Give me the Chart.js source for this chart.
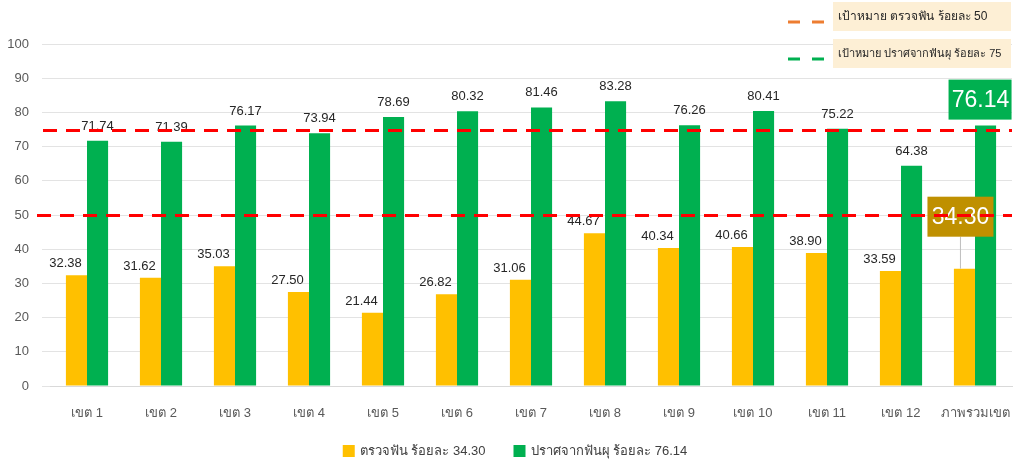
<!DOCTYPE html>
<html>
<head>
<meta charset="utf-8">
<script src="https://cdn.jsdelivr.net/npm/chart.js@4.4.0/dist/chart.umd.min.js"></script>
<style>
  html, body { margin: 0; padding: 0; background: #fff; }
  #wrap { width: 1014px; height: 463px; }
</style>
</head>
<body>
<div id="wrap"><canvas id="dentalChart" width="1014" height="463"></canvas></div>
<script>
// ข้อมูลจากภาพ
const districts = ["เขต 1", "เขต 2", "เขต 3", "เขต 4", "เขต 5", "เขต 6", "เขต 7",
    "เขต 8", "เขต 9", "เขต 10", "เขต 11", "เขต 12", "ภาพรวมเขต"];
const examRate = [32.38, 31.62, 35.03, 27.50, 21.44, 26.82, 31.06, 44.67, 40.34, 40.66, 38.90, 33.59, 34.30];
const cavityFreeRate = [71.74, 71.39, 76.17, 73.94, 78.69, 80.32, 81.46, 83.28, 76.26, 80.41, 75.22, 64.38, 76.14];
const seriesNames = ["ตรวจฟัน ร้อยละ 34.30", "ปราศจากฟันผุ ร้อยละ 76.14"];
const seriesColors = ["#ffc000", "#00b050"];
const examTarget = 50;
const cavityFreeTarget = 75;
const yTicks = [0, 10, 20, 30, 40, 50, 60, 70, 80, 90, 100];

const FONT = "'Liberation Sans', Tahoma, sans-serif";

// ป้ายค่า + เส้นเป้าหมาย + กล่องเป้าหมายมุมขวาบน + คำอธิบายด้านล่าง
const overlayPlugin = {
    id: "overlay",
    afterDatasetsDraw(chart) {
        const ctx = chart.ctx;
        const y = chart.scales.y;
        const last = districts.length - 1;
        ctx.save();

        // ป้ายค่าบนแท่ง
        ctx.font = "13px " + FONT;
        ctx.fillStyle = "#262626";
        ctx.textAlign = "center";
        ctx.textBaseline = "bottom";
        chart.getDatasetMeta(0).data.forEach(function (bar, i) {
            if (i === last) return;
            ctx.fillText(examRate[i].toFixed(2), bar.x - 11, bar.y - 5);
        });
        chart.getDatasetMeta(1).data.forEach(function (bar, i) {
            if (i === last) return;
            ctx.fillText(cavityFreeRate[i].toFixed(2), bar.x, bar.y - 8);
        });

        // ป้ายใหญ่ของภาพรวมเขต
        const ob = chart.getDatasetMeta(0).data[last];
        const gb = chart.getDatasetMeta(1).data[last];
        ctx.strokeStyle = "#bfbfbf";
        ctx.lineWidth = 1;
        ctx.beginPath();
        ctx.moveTo(ob.x - 4, ob.y);
        ctx.lineTo(ob.x - 4, ob.y - 32);
        ctx.stroke();
        ctx.fillStyle = "#bf9000";
        ctx.fillRect(ob.x - 37, ob.y - 72, 66, 40);
        ctx.fillStyle = "#00b050";
        ctx.fillRect(gb.x - 37, gb.y - 46, 63, 40);
        ctx.fillStyle = "#ffffff";
        ctx.font = "23px " + FONT;
        ctx.textBaseline = "middle";
        ctx.fillText(examRate[last].toFixed(2), ob.x - 4, ob.y - 51);
        ctx.fillText(cavityFreeRate[last].toFixed(2), gb.x - 5, gb.y - 25);

        // เส้นเป้าหมาย
        ctx.strokeStyle = "#ff0000";
        ctx.lineWidth = 3;
        ctx.setLineDash([14, 9]);
        [examTarget, cavityFreeTarget].forEach(function (v, k) {
            const py = Math.round(y.getPixelForValue(v)) + 0.5;
            ctx.beginPath();
            ctx.moveTo(k === 0 ? 37 : 43, py);
            ctx.lineTo(chart.chartArea.right, py);
            ctx.stroke();
        });

        // กล่องคำอธิบายเป้าหมาย
        const boxes = [
            { top: 2, text: "เป้าหมาย ตรวจฟัน ร้อยละ 50", color: "#ed7d31" },
            { top: 39, text: "เป้าหมาย ปราศจากฟันผุ ร้อยละ 75", color: "#00b050" },
        ];
        boxes.forEach(function (b) {
            ctx.fillStyle = "#fdefd5";
            ctx.fillRect(833, b.top, 178, 29);
            ctx.strokeStyle = b.color;
            ctx.lineWidth = 3;
            ctx.setLineDash([12, 12]);
            ctx.beginPath();
            ctx.moveTo(788, b.top + 20);
            ctx.lineTo(824, b.top + 20);
            ctx.stroke();
            ctx.setLineDash([]);
            ctx.fillStyle = "#262626";
            ctx.font = "12px " + FONT;
            ctx.textAlign = "left";
            let w = ctx.measureText(b.text).width;
            if (w > 168) ctx.font = Math.floor(12 * 168 / w) + "px " + FONT;
            ctx.fillText(b.text, 838, b.top + 15);
        });

        // คำอธิบายชุดข้อมูลด้านล่าง
        ctx.font = "13px " + FONT;
        ctx.textAlign = "left";
        ctx.textBaseline = "middle";
        const widths = seriesNames.map(function (t) { return ctx.measureText(t).width; });
        const total = 12 + 5 + widths[0] + 28 + 12 + 5 + widths[1];
        let lx = 515 - total / 2;
        seriesNames.forEach(function (t, i) {
            ctx.fillStyle = seriesColors[i];
            ctx.fillRect(lx, 445, 12, 12);
            ctx.fillStyle = "#404040";
            ctx.fillText(t, lx + 17, 451);
            lx += 17 + widths[i] + 28;
        });
        ctx.restore();
    },
};

const ctx = document.getElementById("dentalChart").getContext("2d");
new Chart(ctx, {
    type: "bar",
    data: {
        labels: districts,
        datasets: [
            {
                label: seriesNames[0],
                data: examRate,
                backgroundColor: seriesColors[0],
                categoryPercentage: 0.57,
                barPercentage: 1,
            },
            {
                label: seriesNames[1],
                data: cavityFreeRate,
                backgroundColor: seriesColors[1],
                categoryPercentage: 0.57,
                barPercentage: 1,
            },
        ],
    },
    options: {
        responsive: false,
        animation: false,
        devicePixelRatio: 1,
        layout: { padding: { top: 44, right: 2, left: 0, bottom: 37 } },
        plugins: {
            tooltip: { enabled: false },
            legend: { display: false },
        },
        scales: {
            x: {
                afterFit: function (s) {
                    s.height = 40;
                    s.paddingRight = 0;
                    s.paddingLeft = 0;
                },
                grid: { display: false },
                border: { color: "#d9d9d9" },
                ticks: {
                    color: "#595959",
                    padding: 12,
                    maxRotation: 0,
                    minRotation: 0,
                    autoSkip: false,
                    font: { family: FONT, size: 13 },
                },
            },
            y: {
                min: 0,
                max: 100,
                afterFit: function (s) { s.width = 50; },
                afterBuildTicks: function (s) { s.ticks = yTicks.map(function (v) { return { value: v }; }); },
                grid: { color: "#e3e3e3" },
                border: { display: false },
                ticks: { color: "#595959", padding: 13, font: { family: FONT, size: 13 } },
            },
        },
    },
    plugins: [overlayPlugin],
});
</script>
</body>
</html>
